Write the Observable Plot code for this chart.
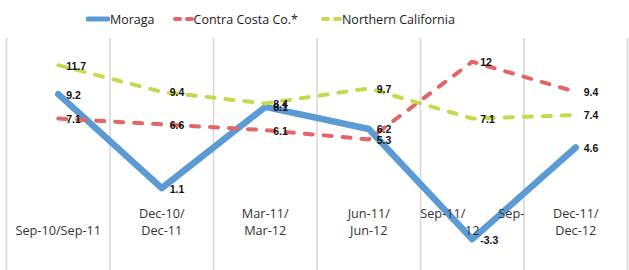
<!DOCTYPE html>
<html>
<head>
<meta charset="utf-8">
<script src="https://cdn.jsdelivr.net/npm/d3@7"></script>
<script src="https://cdn.jsdelivr.net/npm/@observablehq/plot@0.6"></script>
<style>
  html, body { margin: 0; padding: 0; background: #fff; }
  body { width: 629px; height: 270px; overflow: hidden; font-family: "Open Sans", sans-serif; }
  #legend { height: 38px; display: flex; align-items: center; padding-left: 86px; box-sizing: border-box; font-size: 12.5px; color: #1a1a1a; }
  #legend .item { display: flex; align-items: center; }
  #legend svg { display: block; }
  #chart svg { display: block; }
</style>
</head>
<body>
<div id="legend"></div>
<div id="chart"></div>
<script>
// Data
const categories = ["Sep-10/Sep-11", "Dec-10/Dec-11", "Mar-11/Mar-12", "Jun-11/Jun-12", "Sep-11/Sep-12", "Dec-11/Dec-12"];
const tickLabels = ["\u00a0\nSep-10/Sep-11", "Dec-10/\nDec-11", "Mar-11/\nMar-12", "Jun-11/\nJun-12",
  "Sep-11/\u00a0\u00a0\u00a0\u00a0\u00a0\u00a0\u00a0\u00a0\u00a0\u00a0Sep-\n12", "Dec-11/\nDec-12"];
const seriesNames = ["Moraga", "Contra Costa Co.*", "Northern California"];
const moraga = [9.2, 1.1, 8.1, 6.2, -3.3, 4.6];
const contraCosta = [7.1, 6.6, 6.1, 5.3, 12, 9.4];
const northernCal = [11.7, 9.4, 8.4, 9.7, 7.1, 7.4];

const colors = {"Moraga": "#5B9BD5", "Contra Costa Co.*": "#E46565", "Northern California": "#C4D94C"};
const valuesBySeries = {"Moraga": moraga, "Contra Costa Co.*": contraCosta, "Northern California": northernCal};

const rows = [];
for (const s of seriesNames) {
  valuesBySeries[s].forEach((v, i) => rows.push({series: s, i, value: v}));
}
const catRows = categories.map((c, i) => ({i, label: tickLabels[i]}));
const gridX = d3.range(categories.length + 1).map(k => k - 0.5);

const lineStyle = {
  "Moraga": {strokeWidth: 6.5},
  "Contra Costa Co.*": {strokeWidth: 4, strokeDasharray: "8,11", strokeLinecap: "round"},
  "Northern California": {strokeWidth: 4, strokeDasharray: "8,11", strokeLinecap: "round"}
};

const marks = [
  Plot.ruleX(gridX, {stroke: "#D6D6D6", strokeWidth: 1.5}),
  ...seriesNames.map(s => Plot.line(rows.filter(r => r.series === s), {
    x: "i", y: "value", stroke: colors[s], ...lineStyle[s]
  })),
  Plot.text(rows, {x: "i", y: "value", text: d => String(d.value), textAnchor: "start",
    dx: 8, dy: 1, fontWeight: "bold", fontSize: 10.5, fill: "#111", fontFamily: "Liberation Sans, Arial, sans-serif"}),
  Plot.text(catRows, {x: "i", y: () => 0, text: "label", lineAnchor: "top", dy: 6,
    fontSize: 12.7, lineHeight: 1.28, fill: "#333", fontFamily: "Open Sans, sans-serif"})
];

const chart = Plot.plot({
  width: 629,
  height: 232,
  marginTop: 0,
  marginBottom: 0,
  marginLeft: 6,
  marginRight: 2,
  x: {domain: [-0.5, categories.length - 0.5], axis: null},
  y: {domain: [-6, 14], axis: null},
  style: {background: "#fff", overflow: "visible"},
  marks
});
document.getElementById("chart").appendChild(chart);

// Legend
const legend = document.getElementById("legend");
const gaps = [18, 23, 0];
seriesNames.forEach((s, k) => {
  const item = document.createElement("div");
  item.className = "item";
  item.style.marginRight = gaps[k] + "px";
  const ns = "http://www.w3.org/2000/svg";
  const sw = document.createElementNS(ns, "svg");
  sw.setAttribute("width", k === 0 ? 24 : 21);
  sw.setAttribute("height", 10);
  const ln = document.createElementNS(ns, "line");
  ln.setAttribute("x1", 2); ln.setAttribute("x2", k === 0 ? 22 : 19);
  ln.setAttribute("y1", 5); ln.setAttribute("y2", 5);
  ln.setAttribute("stroke", colors[s]);
  ln.setAttribute("stroke-width", k === 0 ? 5 : 4);
  ln.setAttribute("stroke-linecap", "round");
  if (k > 0) ln.setAttribute("stroke-dasharray", "5,7");
  sw.appendChild(ln);
  const t = document.createElement("span");
  t.textContent = s;
  item.appendChild(sw);
  item.appendChild(t);
  legend.appendChild(item);
});
</script>
</body>
</html>
